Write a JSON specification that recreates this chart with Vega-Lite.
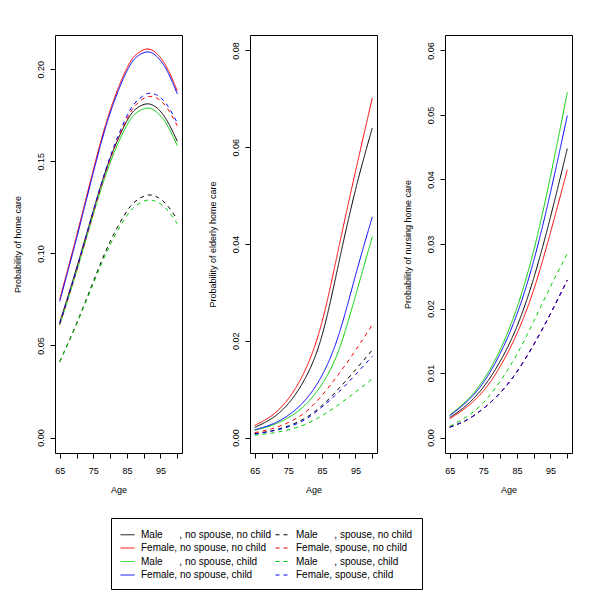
{
  "$schema": "https://vega.github.io/schema/vega-lite/v6.json",
  "padding": {"left": 12, "top": 34, "right": 5, "bottom": 5},
  "autosize": {"type": "pad"},
  "config": {
    "font": "Liberation Sans",
    "view": {"stroke": "black", "strokeWidth": 1},
    "axis": {"grid": false, "domain": false, "tickColor": "black", "tickSize": 5, "labelColor": "black", "titleColor": "black", "labelFontSize": 9, "titleFontSize": 9, "titleFontWeight": "normal", "labelFlush": false, "labelOverlap": false},
    "axisY": {"labelAngle": 270, "labelAlign": "center", "labelBaseline": "bottom", "labelPadding": 5, "titlePadding": 14},
    "axisX": {"labelPadding": 8, "titlePadding": 10},
    "line": {"strokeWidth": 1, "interpolate": "natural"}
  },
  "data": {"values": [
    {"g":"h","a":65,"mnn":0.0625,"fnn":0.0750,"mnc":0.0610,"fnc":0.0739,"msn":0.0412,"fsn":0.0615,"msc":0.0410,"fsc":0.0620},
    {"g":"h","a":70,"mnn":0.0919,"fnn":0.1094,"mnc":0.0900,"fnc":0.1080,"msn":0.0619,"fsn":0.0906,"msc":0.0614,"fsc":0.0913},
    {"g":"h","a":75,"mnn":0.1232,"fnn":0.1454,"mnc":0.1211,"fnc":0.1439,"msn":0.0847,"fsn":0.1220,"msc":0.0836,"fsc":0.1230},
    {"g":"h","a":80,"mnn":0.1515,"fnn":0.1776,"mnc":0.1492,"fnc":0.1761,"msn":0.1064,"fsn":0.1510,"msc":0.1046,"fsc":0.1524},
    {"g":"h","a":85,"mnn":0.1719,"fnn":0.2006,"mnc":0.1696,"fnc":0.1990,"msn":0.1229,"fsn":0.1730,"msc":0.1205,"fsc":0.1746},
    {"g":"h","a":88,"mnn":0.1789,"fnn":0.2083,"mnc":0.1765,"fnc":0.2068,"msn":0.1289,"fsn":0.1812,"msc":0.1263,"fsc":0.1828},
    {"g":"h","a":91,"mnn":0.1812,"fnn":0.2110,"mnc":0.1789,"fnc":0.2094,"msn":0.1316,"fsn":0.1850,"msc":0.1289,"fsc":0.1867},
    {"g":"h","a":94,"mnn":0.1789,"fnn":0.2083,"mnc":0.1765,"fnc":0.2068,"msn":0.1306,"fsn":0.1842,"msc":0.1279,"fsc":0.1859},
    {"g":"h","a":97,"mnn":0.1719,"fnn":0.2006,"mnc":0.1696,"fnc":0.1990,"msn":0.1261,"fsn":0.1789,"msc":0.1236,"fsc":0.1805},
    {"g":"h","a":100,"mnn":0.1609,"fnn":0.1882,"mnc":0.1586,"fnc":0.1866,"msn":0.1184,"fsn":0.1693,"msc":0.1161,"fsc":0.1709},
    {"g":"e","a":65,"mnn":0.0021,"fnn":0.0025,"mnc":0.0015,"fnc":0.0016,"msn":0.0008,"fsn":0.0010,"msc":0.0005,"fsc":0.0007},
    {"g":"e","a":70,"mnn":0.0039,"fnn":0.0045,"mnc":0.0025,"fnc":0.0027,"msn":0.0014,"fsn":0.0018,"msc":0.0009,"fsc":0.0013},
    {"g":"e","a":75,"mnn":0.0070,"fnn":0.0080,"mnc":0.0041,"fnc":0.0046,"msn":0.0024,"fsn":0.0031,"msc":0.0016,"fsc":0.0022},
    {"g":"e","a":80,"mnn":0.0122,"fnn":0.0139,"mnc":0.0067,"fnc":0.0077,"msn":0.0040,"fsn":0.0052,"msc":0.0027,"fsc":0.0037},
    {"g":"e","a":85,"mnn":0.0210,"fnn":0.0238,"mnc":0.0110,"fnc":0.0128,"msn":0.0066,"fsn":0.0087,"msc":0.0045,"fsc":0.0063},
    {"g":"e","a":90,"mnn":0.0360,"fnn":0.0392,"mnc":0.0180,"fnc":0.0212,"msn":0.0101,"fsn":0.0131,"msc":0.0068,"fsc":0.0094},
    {"g":"e","a":95,"mnn":0.0512,"fnn":0.0550,"mnc":0.0293,"fnc":0.0335,"msn":0.0140,"fsn":0.0180,"msc":0.0094,"fsc":0.0130},
    {"g":"e","a":100,"mnn":0.0640,"fnn":0.0702,"mnc":0.0415,"fnc":0.0456,"msn":0.0181,"fsn":0.0233,"msc":0.0121,"fsc":0.0168},
    {"g":"n","a":65,"mnn":0.0031,"fnn":0.0029,"mnc":0.0035,"fnc":0.0034,"msn":0.0016,"fsn":0.0016,"msc":0.00175,"fsc":0.0016},
    {"g":"n","a":70,"mnn":0.0050,"fnn":0.0047,"mnc":0.0057,"fnc":0.0055,"msn":0.0027,"fsn":0.0027,"msc":0.0032,"fsc":0.0027},
    {"g":"n","a":75,"mnn":0.0078,"fnn":0.0072,"mnc":0.0089,"fnc":0.0085,"msn":0.0045,"fsn":0.0045,"msc":0.0054,"fsc":0.0045},
    {"g":"n","a":80,"mnn":0.0118,"fnn":0.0110,"mnc":0.0136,"fnc":0.0130,"msn":0.0069,"fsn":0.0069,"msc":0.0087,"fsc":0.0069},
    {"g":"n","a":85,"mnn":0.0172,"fnn":0.0161,"mnc":0.0201,"fnc":0.0191,"msn":0.0102,"fsn":0.0102,"msc":0.0129,"fsc":0.0102},
    {"g":"n","a":90,"mnn":0.0247,"fnn":0.0229,"mnc":0.0290,"fnc":0.0274,"msn":0.0144,"fsn":0.0144,"msc":0.0180,"fsc":0.0144},
    {"g":"n","a":95,"mnn":0.0342,"fnn":0.0318,"mnc":0.0405,"fnc":0.0380,"msn":0.0192,"fsn":0.0192,"msc":0.0234,"fsc":0.0192},
    {"g":"n","a":100,"mnn":0.0448,"fnn":0.0415,"mnc":0.0535,"fnc":0.0499,"msn":0.0244,"fsn":0.0244,"msc":0.0285,"fsc":0.0244}
  ]},
  "transform": [{"fold": ["mnn","fnn","mnc","fnc","msn","fsn","msc","fsc"], "as": ["s","p"]}],
  "bounds": "flush",
  "spacing": 68,
  "hconcat": [
    {
      "width": 127, "height": 418,
      "transform": [{"filter": "datum.g === 'h'"}],
      "mark": {"type": "line"},
      "encoding": {
        "x": {"field": "a", "type": "quantitative", "scale": {"domain": [63.6, 101.4], "nice": false, "zero": false}, "axis": {"values": [65,70,75,80,85,90,95,100], "labelExpr": "(datum.value - 65) % 10 === 0 ? datum.label : ''", "title": "Age"}},
        "y": {"field": "p", "type": "quantitative", "scale": {"domain": [-0.0084, 0.2186], "nice": false, "zero": false}, "axis": {"values": [0,0.05,0.1,0.15,0.2], "format": ".2f", "title": "Probability of home care"}},
        "color": {"field": "s", "type": "nominal", "scale": {"domain": ["mnn","fnn","mnc","fnc","msn","fsn","msc","fsc"], "range": ["#000000","#FF0000","#00CD00","#0000FF","#000000","#FF0000","#00CD00","#0000FF"]},
          "legend": {"title": null, "orient": "none", "legendX": 56, "legendY": 483, "columns": 2, "symbolType": "stroke", "symbolSize": 196, "symbolStrokeWidth": 1, "labelFontSize": 10, "labelLimit": 300, "labelColor": "black", "labelOffset": 6, "strokeColor": "black", "padding": 9, "rowPadding": 0.5, "columnPadding": 1,
            "labelExpr": "datum.value === 'mnn' ? 'Male\u00a0\u00a0\u00a0\u00a0\u00a0\u00a0, no spouse, no child' : datum.value === 'msn' ? 'Male\u00a0\u00a0\u00a0\u00a0\u00a0\u00a0, spouse, no child' : datum.value === 'fnn' ? 'Female, no spouse, no child' : datum.value === 'fsn' ? 'Female, spouse, no child' : datum.value === 'mnc' ? 'Male\u00a0\u00a0\u00a0\u00a0\u00a0\u00a0, no spouse, child' : datum.value === 'msc' ? 'Male\u00a0\u00a0\u00a0\u00a0\u00a0\u00a0, spouse, child' : datum.value === 'fnc' ? 'Female, no spouse, child' : 'Female, spouse, child'"}},
        "strokeDash": {"field": "s", "type": "nominal", "scale": {"domain": ["mnn","fnn","mnc","fnc","msn","fsn","msc","fsc"], "range": [[1,0],[1,0],[1,0],[1,0],[4,4],[4,4],[4,4],[4,4]]},
          "legend": {"title": null, "orient": "none", "legendX": 56, "legendY": 483, "columns": 2, "symbolType": "stroke", "symbolSize": 196, "symbolStrokeWidth": 1, "labelFontSize": 10, "labelLimit": 300, "labelColor": "black", "labelOffset": 6, "strokeColor": "black", "padding": 9, "rowPadding": 0.5, "columnPadding": 1,
            "labelExpr": "datum.value === 'mnn' ? 'Male\u00a0\u00a0\u00a0\u00a0\u00a0\u00a0, no spouse, no child' : datum.value === 'msn' ? 'Male\u00a0\u00a0\u00a0\u00a0\u00a0\u00a0, spouse, no child' : datum.value === 'fnn' ? 'Female, no spouse, no child' : datum.value === 'fsn' ? 'Female, spouse, no child' : datum.value === 'mnc' ? 'Male\u00a0\u00a0\u00a0\u00a0\u00a0\u00a0, no spouse, child' : datum.value === 'msc' ? 'Male\u00a0\u00a0\u00a0\u00a0\u00a0\u00a0, spouse, child' : datum.value === 'fnc' ? 'Female, no spouse, child' : 'Female, spouse, child'"}}
      }
    },
    {
      "width": 127, "height": 418,
      "transform": [{"filter": "datum.g === 'e'"}],
      "mark": {"type": "line"},
      "encoding": {
        "x": {"field": "a", "type": "quantitative", "scale": {"domain": [63.6, 101.4], "nice": false, "zero": false}, "axis": {"values": [65,70,75,80,85,90,95,100], "labelExpr": "(datum.value - 65) % 10 === 0 ? datum.label : ''", "title": "Age"}},
        "y": {"field": "p", "type": "quantitative", "scale": {"domain": [-0.0032, 0.0832], "nice": false, "zero": false}, "axis": {"values": [0,0.02,0.04,0.06,0.08], "format": ".2f", "title": "Probability of elderly home care"}},
        "color": {"field": "s", "type": "nominal"},
        "strokeDash": {"field": "s", "type": "nominal"}
      }
    },
    {
      "width": 127, "height": 418,
      "transform": [{"filter": "datum.g === 'n'"}],
      "mark": {"type": "line"},
      "encoding": {
        "x": {"field": "a", "type": "quantitative", "scale": {"domain": [63.6, 101.4], "nice": false, "zero": false}, "axis": {"values": [65,70,75,80,85,90,95,100], "labelExpr": "(datum.value - 65) % 10 === 0 ? datum.label : ''", "title": "Age"}},
        "y": {"field": "p", "type": "quantitative", "scale": {"domain": [-0.0024, 0.0624], "nice": false, "zero": false}, "axis": {"values": [0,0.01,0.02,0.03,0.04,0.05,0.06], "format": ".2f", "title": "Probability of nursing home care"}},
        "color": {"field": "s", "type": "nominal"},
        "strokeDash": {"field": "s", "type": "nominal"}
      }
    }
  ]
}
